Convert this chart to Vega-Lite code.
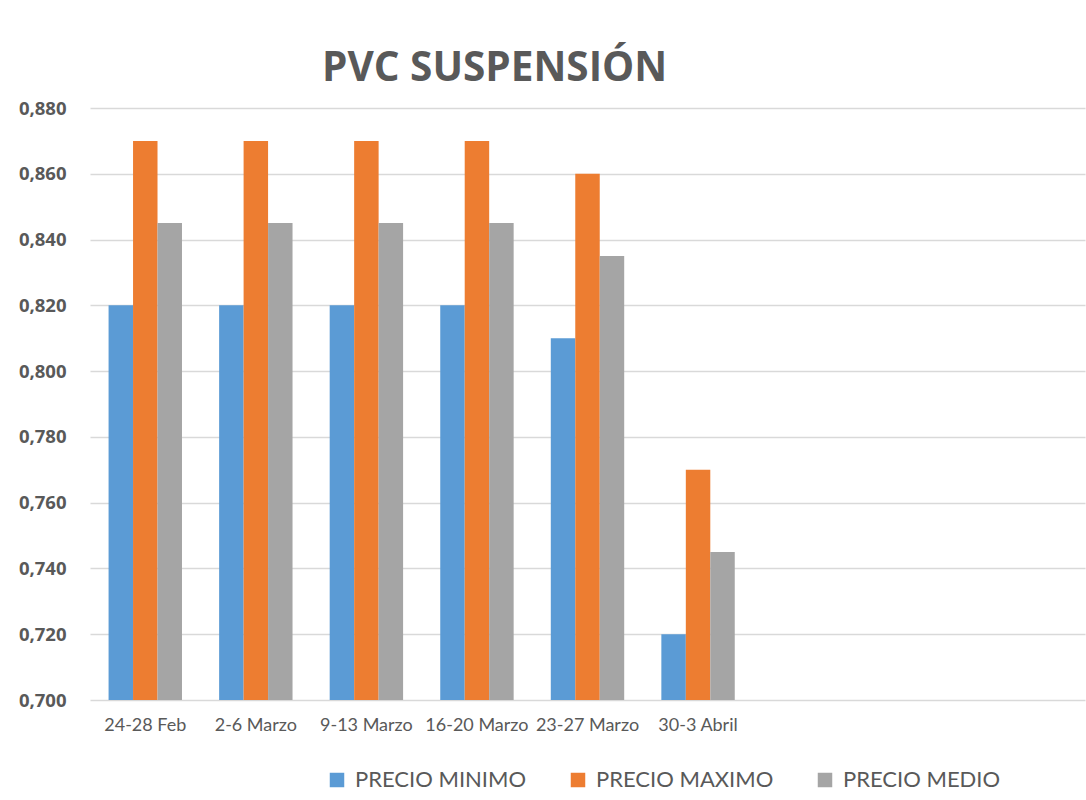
{
  "$schema": "https://vega.github.io/schema/vega-lite/v6.json",
  "autosize": {"type": "none"},
  "padding": {"left": 90, "top": 108, "right": 1, "bottom": 100},
  "width": 995,
  "height": 592,
  "background": "white",
  "title": {
    "text": "PVC SUSPENSIÓN",
    "font": "Open Sans",
    "fontSize": 40.5,
    "fontWeight": "bold",
    "color": "#595959",
    "anchor": "start",
    "frame": "group",
    "dx": 232,
    "offset": 10
  },
  "data": {
    "values": [
      {"semana": "24-28 Feb", "serie": "PRECIO MINIMO", "valor": 0.82},
      {"semana": "24-28 Feb", "serie": "PRECIO MAXIMO", "valor": 0.87},
      {"semana": "24-28 Feb", "serie": "PRECIO MEDIO", "valor": 0.845},
      {"semana": "2-6 Marzo", "serie": "PRECIO MINIMO", "valor": 0.82},
      {"semana": "2-6 Marzo", "serie": "PRECIO MAXIMO", "valor": 0.87},
      {"semana": "2-6 Marzo", "serie": "PRECIO MEDIO", "valor": 0.845},
      {"semana": "9-13 Marzo", "serie": "PRECIO MINIMO", "valor": 0.82},
      {"semana": "9-13 Marzo", "serie": "PRECIO MAXIMO", "valor": 0.87},
      {"semana": "9-13 Marzo", "serie": "PRECIO MEDIO", "valor": 0.845},
      {"semana": "16-20 Marzo", "serie": "PRECIO MINIMO", "valor": 0.82},
      {"semana": "16-20 Marzo", "serie": "PRECIO MAXIMO", "valor": 0.87},
      {"semana": "16-20 Marzo", "serie": "PRECIO MEDIO", "valor": 0.845},
      {"semana": "23-27 Marzo", "serie": "PRECIO MINIMO", "valor": 0.81},
      {"semana": "23-27 Marzo", "serie": "PRECIO MAXIMO", "valor": 0.86},
      {"semana": "23-27 Marzo", "serie": "PRECIO MEDIO", "valor": 0.835},
      {"semana": "30-3 Abril", "serie": "PRECIO MINIMO", "valor": 0.72},
      {"semana": "30-3 Abril", "serie": "PRECIO MAXIMO", "valor": 0.77},
      {"semana": "30-3 Abril", "serie": "PRECIO MEDIO", "valor": 0.745}
    ]
  },
  "mark": {"type": "bar", "clip": true},
  "encoding": {
    "x": {
      "field": "semana",
      "type": "nominal",
      "sort": null,
      "scale": {
        "domain": ["24-28 Feb", "2-6 Marzo", "9-13 Marzo", "16-20 Marzo", "23-27 Marzo", "30-3 Abril", " ", "  ", "   "],
        "paddingInner": 0.336,
        "paddingOuter": 0.168
      },
      "axis": {
        "title": null,
        "labelAngle": 0,
        "domain": false,
        "ticks": false,
        "labelPadding": 16,
        "labelFont": "Lato",
        "labelFontSize": 18,
        "labelColor": "#595959"
      }
    },
    "xOffset": {
      "field": "serie",
      "type": "nominal",
      "sort": ["PRECIO MINIMO", "PRECIO MAXIMO", "PRECIO MEDIO"],
      "scale": {"paddingInner": 0, "paddingOuter": 0}
    },
    "y": {
      "field": "valor",
      "type": "quantitative",
      "scale": {"domain": [0.7, 0.88], "zero": false, "nice": false},
      "axis": {
        "title": null,
        "values": [0.7, 0.72, 0.74, 0.76, 0.78, 0.8, 0.82, 0.84, 0.86, 0.88],
        "labelExpr": "replace(format(datum.value, '.3f'), '.', ',')",
        "domain": false,
        "ticks": false,
        "labelPadding": 24,
        "labelFont": "Open Sans",
        "labelFontWeight": "bold",
        "labelFontSize": 18.5,
        "labelColor": "#595959",
        "grid": true,
        "gridColor": "#d9d9d9",
        "gridWidth": 1.3
      }
    },
    "y2": {"datum": 0.7},
    "color": {
      "field": "serie",
      "type": "nominal",
      "sort": ["PRECIO MINIMO", "PRECIO MAXIMO", "PRECIO MEDIO"],
      "scale": {
        "domain": ["PRECIO MINIMO", "PRECIO MAXIMO", "PRECIO MEDIO"],
        "range": ["#5B9BD5", "#ED7D31", "#A5A5A5"]
      },
      "legend": {
        "title": null,
        "orient": "none",
        "direction": "horizontal",
        "legendX": 236,
        "legendY": 661,
        "symbolType": "square",
        "symbolSize": 210,
        "symbolStrokeWidth": 0,
        "labelFont": "Lato",
        "labelFontSize": 22,
        "labelColor": "#595959",
        "labelOffset": 7,
        "columnPadding": 40,
        "labelLimit": 300
      }
    }
  },
  "config": {
    "view": {"stroke": null}
  }
}
